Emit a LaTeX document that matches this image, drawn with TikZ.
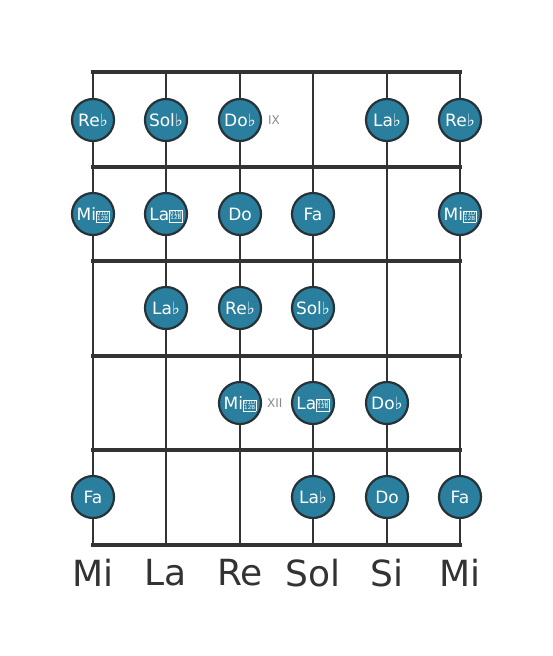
\documentclass[tikz,border=0pt]{standalone}
\usepackage{fontspec}
\setmainfont{DejaVu Sans}
\definecolor{linec}{HTML}{333333}
\definecolor{dotfill}{HTML}{2A7F9E}
\definecolor{dotline}{HTML}{263238}
\definecolor{markc}{HTML}{8A8A8A}
\newcommand{\fl}{♭}
\newcommand{\tofu}{{\setlength{\fboxsep}{0.4pt}\setlength{\fboxrule}{0.5pt}\raisebox{0.3pt}[\height][0pt]{\fbox{\fontsize{5.6}{5.6}\selectfont\begin{tabular}[b]{@{}c@{}}01D\\[-1.4pt]12B\end{tabular}}}}}
\begin{document}
\begin{tikzpicture}[x=1pt,y=-1pt,
  stringline/.style={draw=linec,line width=2.6pt},
  fretline/.style={draw=linec,line width=4.6pt},
  note/.style={circle,draw=dotline,fill=dotfill,line width=2.2pt,minimum size=42pt,inner sep=0pt,text=white,font=\fontsize{17}{18}\selectfont},
  marker/.style={text=markc,font=\fontsize{12}{13}\selectfont,inner sep=0pt},
  strname/.style={text=linec,font=\fontsize{36}{40}\selectfont,inner sep=0pt}]
\useasboundingbox (0,0) rectangle (553,656);
% string coordinates
\foreach \i/\x in {1/93,2/166,3/240,4/313,5/387,6/460}{
  \coordinate (t\i) at (\x,72);
  \coordinate (b\i) at (\x,545);
}
\foreach \i in {1,...,6}{\draw[stringline] (t\i) -- (b\i);}
% frets
\foreach \j/\y in {0/72,1/167,2/261,3/356,4/450,5/545}{
  \coordinate (fl\j) at (93,\y);
  \coordinate (fr\j) at (460,\y);
  \draw[fretline,line cap=rect] (fl\j) -- (fr\j);
}
% row 1
\node[note] (n11) at (93,120) {Re\fl};
\node[note] (n12) at (166,120) {Sol\fl};
\node[note] (n13) at (240,120) {Do\fl};
\node[note] (n15) at (387,120) {La\fl};
\node[note] (n16) at (460,120) {Re\fl};
\node[marker,anchor=west] (m9) at (268,120) {IX};
% row 2
\node[note] (n21) at (93,214) {Mi\tofu};
\node[note] (n22) at (166,214) {La\tofu};
\node[note] (n23) at (240,214) {Do};
\node[note] (n24) at (313,214) {Fa};
\node[note] (n26) at (460,214) {Mi\tofu};
% row 3
\node[note] (n32) at (166,308) {La\fl};
\node[note] (n33) at (240,308) {Re\fl};
\node[note] (n34) at (313,308) {Sol\fl};
% row 4
\node[note] (n43) at (240,403) {Mi\tofu};
\node[note] (n44) at (313,403) {La\tofu};
\node[note] (n45) at (387,403) {Do\fl};
\node[marker,anchor=west] (m12) at (267,403) {XII};
% row 5
\node[note] (n51) at (93,497) {Fa};
\node[note] (n54) at (313,497) {La\fl};
\node[note] (n55) at (387,497) {Do};
\node[note] (n56) at (460,497) {Fa};
% string names
\node[strname] (s1) at (93,573) {Mi};
\node[strname] (s2) at (166,573) {La};
\node[strname] (s3) at (240,573) {Re};
\node[strname] (s4) at (313,573) {Sol};
\node[strname] (s5) at (387,573) {Si};
\node[strname] (s6) at (460,573) {Mi};
\end{tikzpicture}
\end{document}
